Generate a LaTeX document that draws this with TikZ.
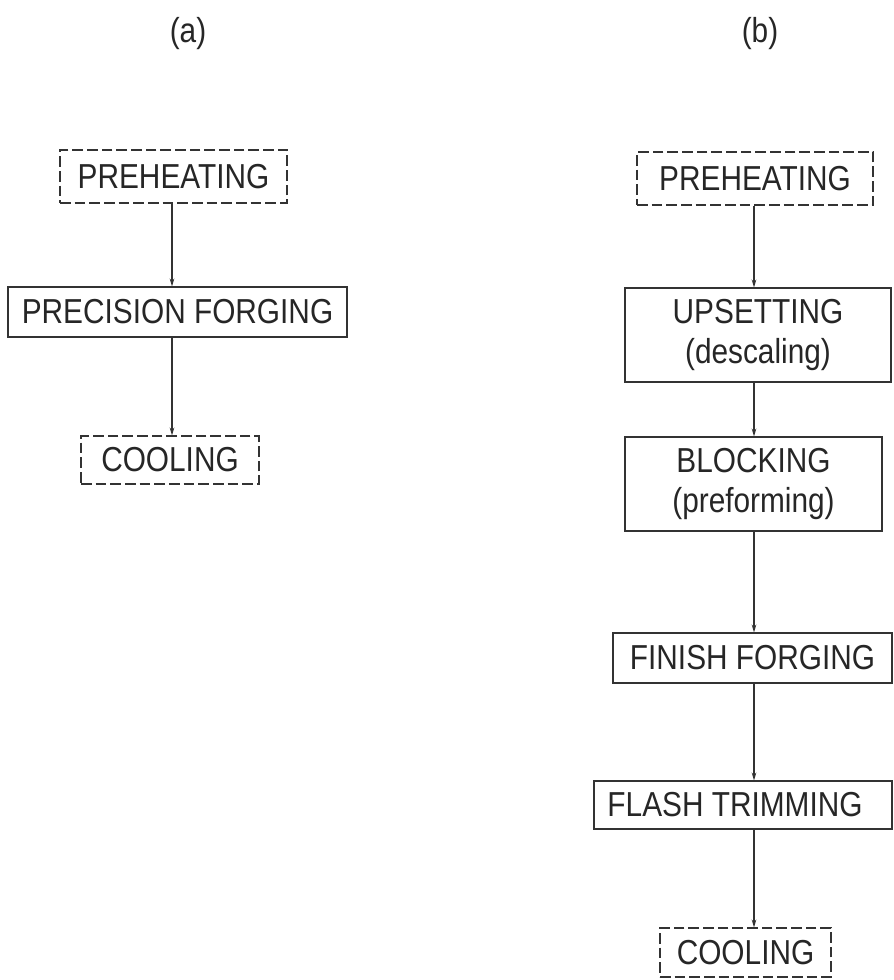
\documentclass[tikz,border=0pt]{standalone}
\usepackage{fontspec}
\setmainfont[FakeStretch=0.86]{Liberation Sans}
\usetikzlibrary{arrows.meta}
\tikzset{
  every node/.style={font=\fontsize{26}{30}\selectfont, text=black!85},
  solidbox/.style={draw=black!80, line width=0.8pt, inner sep=0pt, align=center},
  dashbox/.style={solidbox, dash pattern=on 8pt off 3pt},
  flow/.style={draw=black!80, line width=0.8pt, -{Stealth[length=6pt,width=3.5pt]}},
}
\begin{document}
\begin{tikzpicture}[x=0.75pt, y=-0.75pt]
\useasboundingbox (0,0) rectangle (893,980);
% labels
\node (la) at (188,34) {(a)};
\node (lb) at (760,34) {(b)};
% column (a)
\coordinate (ax) at (172,0);
\node[dashbox, minimum width=227*0.75pt, minimum height=53*0.75pt] (apre) at (173.5,176.5) {PREHEATING};
\node[solidbox, minimum width=339*0.75pt, minimum height=50*0.75pt] (apf) at (177.5,312) {PRECISION FORGING};
\node[dashbox, minimum width=178*0.75pt, minimum height=48*0.75pt] (acool) at (170,460) {COOLING};
\draw[flow] (apre.south -| ax) -- (apf.north -| ax);
\draw[flow] (apf.south -| ax) -- (acool.north -| ax);
% column (b)
\coordinate (bx) at (754,0);
\node[dashbox, minimum width=236*0.75pt, minimum height=53*0.75pt] (bpre) at (755,178.5) {PREHEATING};
\node[solidbox, minimum width=266*0.75pt, minimum height=94*0.75pt] (bup) at (758,335) {UPSETTING\\(descaling)};
\node[solidbox, minimum width=257*0.75pt, minimum height=94*0.75pt] (bbl) at (753.5,484) {BLOCKING\\(preforming)};
\node[solidbox, minimum width=279*0.75pt, minimum height=50*0.75pt] (bff) at (752.5,658) {FINISH FORGING};
\node[solidbox, minimum width=298*0.75pt, minimum height=48*0.75pt] (bft) at (743,805) {FLASH TRIMMING\hspace*{12pt}};
\node[dashbox, minimum width=171*0.75pt, minimum height=49*0.75pt] (bcool) at (745.5,952.5) {COOLING};
\draw[flow] (bpre.south -| bx) -- (bup.north -| bx);
\draw[flow] (bup.south -| bx) -- (bbl.north -| bx);
\draw[flow] (bbl.south -| bx) -- (bff.north -| bx);
\draw[flow] (bff.south -| bx) -- (bft.north -| bx);
\draw[flow] (bft.south -| bx) -- (bcool.north -| bx);
\end{tikzpicture}
\end{document}
